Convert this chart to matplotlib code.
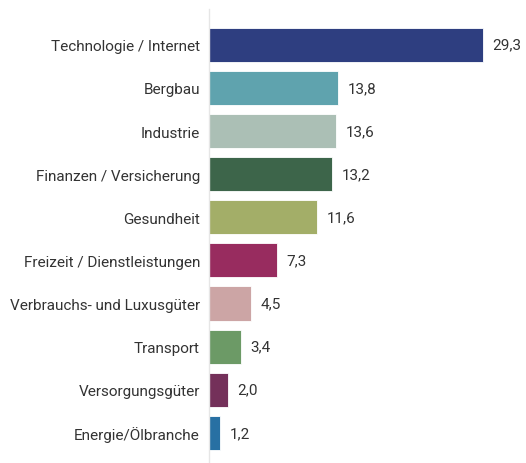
import matplotlib.pyplot as plt
import numpy as np

categories = ["Technologie / Internet", "Bergbau", "Industrie", "Finanzen / Versicherung",
              "Gesundheit", "Freizeit / Dienstleistungen", "Verbrauchs- und Luxusgüter",
              "Transport", "Versorgungsgüter", "Energie/Ölbranche"]
values = [29.3, 13.8, 13.6, 13.2, 11.6, 7.3, 4.5, 3.4, 2.0, 1.2]
colors = ["#2E3E80", "#5FA3AE", "#ABBFB5", "#3D654A", "#A3AE68",
          "#982C5F", "#CCA5A5", "#6C9A66", "#74305A", "#2870A3"]

plt.rcParams['font.family'] = ['Roboto', 'DejaVu Sans']

fig = plt.figure(figsize=(5.26, 4.64), dpi=100)
ax = fig.add_axes([209/526, 0, 1 - 209/526, 1 - 10/464])

y = np.arange(len(categories))
ax.barh(y, values, height=0.79, color=colors, edgecolor="white", linewidth=0.6)
for yi, v in zip(y, values):
    ax.text(v + 1.0, yi, f"{v:.1f}".replace(".", ","), va="center", ha="left",
            fontsize=11, color="#333333")

ax.set_yticks(y)
ax.set_yticklabels(categories, fontsize=11, color="#333333")
ax.tick_params(axis="y", length=0, pad=6.5)
ax.set_xticks([])
ax.set_xlim(0, (526 - 209) / 9.35)
ax.set_ylim(9.7, -0.83)
for s in ["top", "right", "bottom"]:
    ax.spines[s].set_visible(False)
ax.spines["left"].set_color("#e6e6e6")
ax.spines["left"].set_linewidth(1)

fig.savefig("out.png")
